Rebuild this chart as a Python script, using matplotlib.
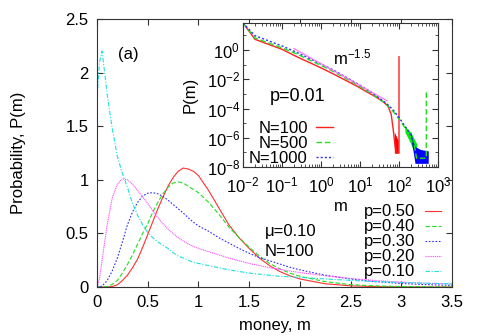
import numpy as np
import matplotlib
matplotlib.use('Agg')
import matplotlib.pyplot as plt
from matplotlib.ticker import FixedLocator, NullFormatter

plt.rcParams['font.family'] = ['Liberation Sans', 'DejaVu Sans']
plt.rcParams['mathtext.fontset'] = 'custom'
plt.rcParams['mathtext.rm'] = 'Liberation Sans'
plt.rcParams['mathtext.it'] = 'Liberation Sans:italic'
plt.rcParams['font.size'] = 12

# main panel: P(m) for several p
m = [0, 0.025, 0.05, 0.1, 0.15, 0.2, 0.25, 0.3, 0.35, 0.4, 0.45, 0.5, 0.55, 0.6, 0.65,
     0.7, 0.75, 0.8, 0.85, 0.9, 0.95, 1.0, 1.1, 1.2, 1.3, 1.4, 1.5, 1.6, 1.7, 1.8, 1.9,
     2.0, 2.25, 2.5, 2.75, 3.0, 3.25, 3.5]
p50 = [0, 0, 0, 0, 0.005, 0.02, 0.06, 0.11, 0.18, 0.26, 0.37, 0.49, 0.61, 0.73, 0.84,
       0.94, 1.02, 1.08, 1.11, 1.10, 1.08, 1.04, 0.90, 0.74, 0.58, 0.46, 0.36, 0.27, 0.20,
       0.145, 0.105, 0.075, 0.03, 0.011, 0.004, 0.001, 0, 0]
p40 = [0, 0, 0, 0.005, 0.025, 0.06, 0.13, 0.21, 0.30, 0.40, 0.50, 0.59, 0.70, 0.79, 0.87,
       0.93, 0.97, 0.98, 0.97, 0.94, 0.91, 0.88, 0.79, 0.68, 0.56, 0.46, 0.37, 0.29, 0.22,
       0.17, 0.13, 0.10, 0.05, 0.022, 0.01, 0.005, 0.002, 0.001]
p30 = [0, 0, 0.01, 0.06, 0.15, 0.27, 0.42, 0.58, 0.70, 0.79, 0.85, 0.875, 0.88, 0.87, 0.845,
       0.81, 0.77, 0.73, 0.69, 0.645, 0.605, 0.57, 0.52, 0.46, 0.41, 0.36, 0.315, 0.275, 0.245,
       0.215, 0.185, 0.16, 0.11, 0.075, 0.05, 0.033, 0.022, 0.015]
p20 = [0, 0.08, 0.25, 0.58, 0.83, 0.96, 1.01, 1.0, 0.96, 0.90, 0.84, 0.78, 0.71, 0.65, 0.59,
       0.54, 0.50, 0.46, 0.43, 0.40, 0.38, 0.36, 0.33, 0.30, 0.27, 0.245, 0.22, 0.20, 0.18,
       0.165, 0.15, 0.135, 0.105, 0.08, 0.06, 0.045, 0.035, 0.028]
p10 = [1.77, 2.1, 2.2, 1.8, 1.48, 1.22, 1.06, 0.93, 0.78, 0.67, 0.58, 0.51, 0.46, 0.42, 0.39,
       0.36, 0.32, 0.29, 0.27, 0.25, 0.23, 0.22, 0.20, 0.18, 0.16, 0.145, 0.13, 0.12, 0.11,
       0.10, 0.095, 0.09, 0.075, 0.062, 0.05, 0.042, 0.035, 0.03]
xticks = [0, 0.5, 1, 1.5, 2, 2.5, 3, 3.5]
xtick_labels = ['0', '0.5', '1', '1.5', '2', '2.5', '3', '3.5']
yticks = [0, 0.5, 1, 1.5, 2, 2.5]
ytick_labels = ['0', '0.5', '1', '1.5', '2', '2.5']

# inset: p=0.01, log10 values
n100_logm = [-2, -1.69, -1.0, -0.62, 0.0, 0.32, 0.92, 1.2, 1.4, 1.6, 1.72, 1.8, 1.85, 1.9, 1.93, 2.0, 2.0]
n100_logp = [1.85, 0.73, 0.05, -0.46, -1.22, -1.64, -2.47, -2.9, -3.2, -3.55, -3.85, -4.4, -5.4, -6.6, -7.05, -7.05, -0.46]
n500_logm = [-2, -1.69, -1.0, -0.62, 0.0, 0.32, 0.92, 1.3, 1.68, 1.85, 2.02, 2.15, 2.28, 2.4, 2.45, 2.7, 2.7]
n500_logp = [1.85, 0.82, 0.15, -0.27, -1.05, -1.47, -2.38, -2.98, -3.7, -4.2, -4.8, -5.3, -5.9, -6.6, -7.4, -7.4, -2.8]
n1000_logm = [-2, -1.69, -1.0, -0.62, 0.0, 0.32, 0.92, 1.3, 1.68, 1.85, 2.02, 2.15, 2.28, 2.36]
n1000_logp = [1.85, 0.98, 0.28, -0.16, -0.95, -1.37, -2.28, -2.9, -3.65, -4.1, -4.68, -5.2, -5.7, -6.3]
# noisy tails drawn as bands
n100_band_logm = [1.88, 1.93, 1.98]
n100_band_lo = [-7.05, -7.05, -7.05]
n100_band_hi = [-5.6, -5.9, -6.2]
n500_band_logm = [2.15, 2.3, 2.45]
n500_band_lo = [-5.6, -6.4, -7.4]
n500_band_hi = [-5.2, -5.6, -6.4]
n1000_band_logm = [2.3, 2.36, 2.41, 2.55, 2.75]
n1000_band_lo = [-6.0, -6.9, -7.75, -7.75, -7.75]
n1000_band_hi = [-5.6, -6.3, -6.6, -6.8, -6.9]
ref_m = [0.2, 50]
ref_p = [1.3, 3.3e-4]
ins_xexp = [-2, -1, 0, 1, 2, 3]
ins_yexp = [-8, -6, -4, -2, 0]

fig = plt.figure(figsize=(4.8, 3.36), dpi=100)
ax = fig.add_axes([0.2021, 0.1458, 0.7396, 0.7976])

ax.plot(m, p50, color='#ff3030', lw=0.8, label='p=0.50')
ax.plot(m, p40, color='#20e020', lw=0.8, dashes=(4, 2), label='p=0.40')
ax.plot(m, p30, color='#3030ff', lw=0.8, dashes=(1.5, 1.5), label='p=0.30')
ax.plot(m, p20, color='#ff50ff', lw=0.8, dashes=(1, 0.7), label='p=0.20')
ax.plot(m, p10, color='#20e0e0', lw=0.8, dashes=(4, 1.5, 1, 1.5), label='p=0.10')

ax.set_xlim(0, 3.5)
ax.set_ylim(0, 2.5)
ax.xaxis.set_major_locator(FixedLocator(xticks))
ax.yaxis.set_major_locator(FixedLocator(yticks))
ax.set_xticklabels(xtick_labels)
ax.set_yticklabels(ytick_labels)
ax.tick_params(direction='in', length=4, width=0.8, top=True, right=True, pad=6, color='#333333')
for s in ax.spines.values():
    s.set_color('#333333')
    s.set_linewidth(0.8)
ax.set_xlabel('money, m')
ax.set_ylabel('Probability, P(m)')
ax.xaxis.set_label_coords(0.5, -0.115)
ax.yaxis.set_label_coords(-0.2, 0.5)

ax.text(0.087, 0.869, '(a)', transform=ax.transAxes, ha='center', va='center')
ax.text(0.473, 0.209, 'μ=0.10', transform=ax.transAxes, ha='left', va='center')
ax.text(0.473, 0.134, 'N=100', transform=ax.transAxes, ha='left', va='center')

ax.legend(loc='lower right', bbox_to_anchor=(0.975, 0.022), frameon=False, markerfirst=False,
          handlelength=1.0, handletextpad=0.6, labelspacing=0.0, borderpad=0.1,
          borderaxespad=0)

# inset
ins = fig.add_axes([0.50625, 0.50298, 0.40625, 0.42857])
ins.set_xscale('log')
ins.set_yscale('log')
pw = lambda v: 10 ** np.array(v)
ins.plot(pw(n100_logm), pw(n100_logp), color='#ff2020', lw=1.0, label='N=100')
ins.fill_between(pw(n100_band_logm), pw(n100_band_lo), pw(n100_band_hi), color='#ff0000', lw=0)
ins.plot(pw(n500_logm), pw(n500_logp), color='#20e020', lw=1.0, dashes=(4, 2), label='N=500')
ins.fill_between(pw(n500_band_logm), pw(n500_band_lo), pw(n500_band_hi), color='#00ee00', lw=0)
ins.plot(pw(n1000_logm), pw(n1000_logp), color='#3030ff', lw=1.0, dashes=(1.5, 1.5), label='N=1000')
ins.fill_between(pw(n1000_band_logm), pw(n1000_band_lo), pw(n1000_band_hi), color='#0000ff', lw=0)
ins.plot(ref_m, ref_p, color='#ff70ff', lw=0.8)

ins.set_xlim(1e-2, 1e3)
ins.set_ylim(1e-8, 10 ** 1.85)
ins.xaxis.set_major_locator(FixedLocator([10.0 ** k for k in ins_xexp]))
ins.xaxis.set_minor_locator(FixedLocator([s * 10.0 ** k for k in ins_xexp[:-1] for s in range(2, 10)]))
ins.xaxis.set_minor_formatter(NullFormatter())
ins.yaxis.set_major_locator(FixedLocator([10.0 ** k for k in ins_yexp]))
ins.yaxis.set_minor_locator(FixedLocator([1e-7, 1e-5, 1e-3, 1e-1, 1e1]))
ins.yaxis.set_minor_formatter(NullFormatter())
ins.set_xticklabels([r'$\mathregular{10^{%d}}$' % k for k in ins_xexp])
ins.set_yticklabels([r'$\mathregular{10^{%d}}$' % k for k in ins_yexp])
ins.tick_params(which='both', direction='in', top=True, right=True, color='#333333')
ins.tick_params(which='major', length=4, width=0.8, pad=2)
ins.tick_params(which='minor', length=2, width=0.6)
ins.tick_params(axis='x', which='major', pad=6)
for s in ins.spines.values():
    s.set_color('#333333')
    s.set_linewidth(0.8)
ins.set_xlabel('m')
ins.set_ylabel('P(m)')
ins.xaxis.set_label_coords(0.5, -0.225)
ins.yaxis.set_label_coords(-0.235, 0.5)
ins.text(0.46, 0.764, r'$\mathregular{m^{-1.5}}$', transform=ins.transAxes, ha='left', va='center')
ins.text(0.138, 0.49, 'p=0.01', transform=ins.transAxes, ha='left', va='center', fontsize=13)
ins.legend(loc='lower right', bbox_to_anchor=(0.465, 0.0), frameon=False, markerfirst=False,
           handlelength=1.0, handletextpad=0.5, labelspacing=0.0, borderpad=0.05,
           borderaxespad=0)

fig.savefig('out.png', dpi=100)
